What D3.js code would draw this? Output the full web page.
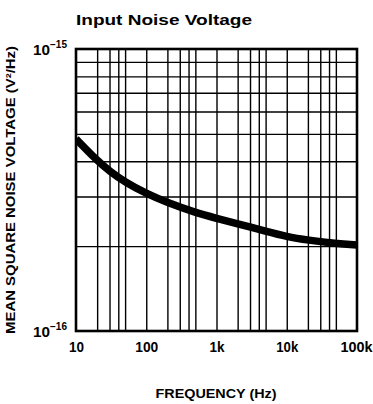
<!DOCTYPE html>
<html><head><meta charset="utf-8">
<script src="https://cdn.jsdelivr.net/npm/d3@7"></script>
<style>
html,body{margin:0;padding:0;background:#fff;}
svg{display:block;}
.cond{font-family:"Liberation Sans",Arial,Helvetica,sans-serif;font-weight:bold;}
</style></head>
<body>
<script>
// Data
const freqs = [10, 20, 30, 50, 100, 200, 500, 1000, 2000, 5000, 10000, 20000, 50000, 100000];
const noise = [4.80e-16, 4.02e-16, 3.69e-16, 3.37e-16, 3.07e-16, 2.85e-16, 2.63e-16, 2.51e-16, 2.40e-16, 2.26e-16, 2.16e-16, 2.10e-16, 2.04e-16, 2.02e-16];
const xTicks = [10, 100, 1000, 10000, 100000];
const xTickLabels = ["10", "100", "1k", "10k", "100k"];
const xGrid = [20,30,40,50, 100, 200,300,400,500, 1000, 2000,3000,4000,5000, 10000, 20000,30000,40000,50000];
const yTicks = [1e-16, 1e-15];
const yTickExps = ["−16", "−15"];
const yGrid = [2e-16,3e-16,4e-16,5e-16,6e-16,7e-16,8e-16,9e-16];
const title = "Input Noise Voltage";
const xTitle = "FREQUENCY (Hz)";
const yTitle = "MEAN SQUARE NOISE VOLTAGE (V²/Hz)";

const W = 373, H = 404;
const L = 76, R = 357, T = 49, B = 331;

const svg = d3.select("body").append("svg").attr("width", W).attr("height", H);

const x = d3.scaleLog().domain([10, 100000]).range([L, R]);
const y = d3.scaleLog().domain([1e-16, 1e-15]).range([B, T]);

// vertical grid
svg.append("g").attr("transform", `translate(0,${B})`)
  .call(d3.axisBottom(x).tickValues(xGrid).tickSize(-(B - T)).tickFormat(""))
  .call(g => g.select(".domain").remove())
  .call(g => g.selectAll("line").attr("stroke", "#000").attr("stroke-width", 1.4));

// horizontal grid
svg.append("g").attr("transform", `translate(${L},0)`)
  .call(d3.axisLeft(y).tickValues(yGrid).tickSize(-(R - L)).tickFormat(""))
  .call(g => g.select(".domain").remove())
  .call(g => g.selectAll("line").attr("stroke", "#000").attr("stroke-width", 1.4));

// curve
svg.append("clipPath").attr("id", "clip").append("rect")
  .attr("x", L).attr("y", T).attr("width", R - L).attr("height", B - T);
const line = d3.line().x((d, i) => x(freqs[i])).y(d => y(d)).curve(d3.curveBasis);
svg.append("path").datum(noise).attr("d", line)
  .attr("clip-path", "url(#clip)")
  .attr("fill", "none").attr("stroke", "#000").attr("stroke-width", 7.5);

// frame
svg.append("rect").attr("x", L).attr("y", T).attr("width", R - L).attr("height", B - T)
  .attr("fill", "none").attr("stroke", "#000").attr("stroke-width", 2.6);

// x tick labels
const xLabelW = [15, 23, 15, 22, 32];
const xa = svg.append("g").attr("transform", `translate(0,${B})`)
  .call(d3.axisBottom(x).tickValues(xTicks).tickSize(0).tickPadding(10)
    .tickFormat((d, i) => xTickLabels[i]));
xa.select(".domain").remove();
xa.selectAll("text").attr("class", "cond").attr("font-size", 14).attr("fill", "#000")
  .attr("dy", 0).attr("y", 20.5)
  .attr("text-anchor", "middle")
  .attr("x", (d, i) => i === 4 ? -1 : 0)
  .attr("textLength", (d, i) => xLabelW[i]).attr("lengthAdjust", "spacingAndGlyphs");

// y tick labels
const ya = svg.append("g").attr("transform", `translate(${L},0)`)
  .call(d3.axisLeft(y).tickValues(yTicks).tickSize(0).tickFormat(""));
ya.select(".domain").remove();
ya.selectAll("text").each(function(d, i) {
  const t = d3.select(this).attr("class", "cond").attr("fill", "#000")
    .attr("text-anchor", "start").attr("x", -43).attr("dy", 0).attr("y", 5);
  t.append("tspan").attr("font-size", 14).attr("textLength", 17).attr("lengthAdjust", "spacingAndGlyphs").text("10");
  t.append("tspan").attr("font-size", 10).attr("dy", -7).attr("textLength", 17).attr("lengthAdjust", "spacingAndGlyphs").text(yTickExps[i]);
});

// title
svg.append("text").attr("x", 164).attr("y", 25).attr("text-anchor", "middle")
  .attr("font-family", "'Liberation Sans',Arial,sans-serif").attr("font-weight", "bold")
  .attr("font-size", 15).attr("textLength", 176).attr("lengthAdjust", "spacingAndGlyphs")
  .text(title);

// x title
svg.append("text").attr("class", "cond").attr("x", 216).attr("y", 398).attr("text-anchor", "middle")
  .attr("font-size", 13.5).attr("textLength", 121).attr("lengthAdjust", "spacingAndGlyphs")
  .text(xTitle);

// y title
svg.append("text").attr("class", "cond")
  .attr("transform", "translate(15,190) rotate(-90)").attr("text-anchor", "middle")
  .attr("font-size", 12).attr("textLength", 288).attr("lengthAdjust", "spacingAndGlyphs")
  .text(yTitle);
</script>
</body></html>
